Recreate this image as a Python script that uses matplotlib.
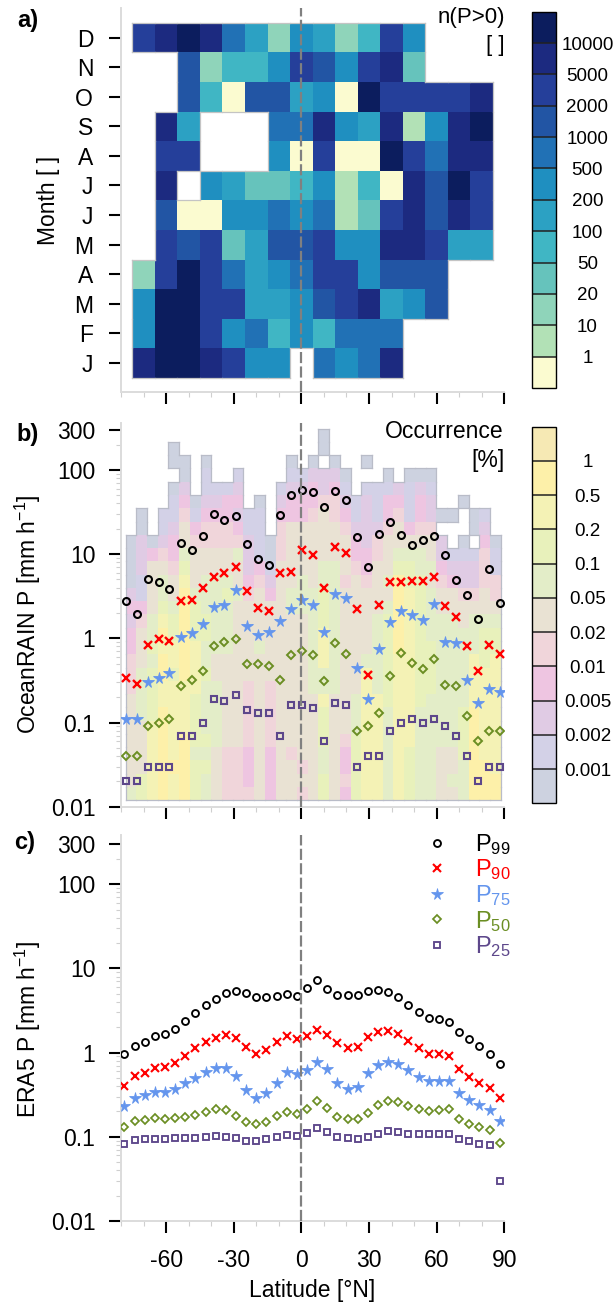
import numpy as np
import matplotlib
matplotlib.use("Agg")
import matplotlib.pyplot as plt
from matplotlib.colors import ListedColormap, BoundaryNorm
from matplotlib.cm import ScalarMappable
from matplotlib.ticker import FixedLocator, LogLocator, NullFormatter

plt.rcParams['font.family'] = ['Liberation Sans', 'DejaVu Sans']
plt.rcParams['mathtext.fontset'] = 'custom'
plt.rcParams['mathtext.rm'] = 'Liberation Sans'
plt.rcParams['mathtext.default'] = 'regular'

W, H = 616, 1305

# panel a, count class per month (top row is December), '.' = no data
months = ['D', 'N', 'O', 'S', 'A', 'J', 'J', 'M', 'A', 'M', 'F', 'J']
month_rows = [
    "9aba752652496...",
    "..824469869a3...",
    "..84088560b9999a",
    ".a5...77a65a16ab",
    ".99...60900b97aa",
    ".a.653346140a8b9",
    ".80066767139a8a9",
    ".9893588966aa955",
    "29b97567996888..",
    "6bb9955689a568..",
    "6bb967464777....",
    "abba966.767a....",
]
n_values = {'0': 0.5, '1': 5, '2': 15, '3': 35, '4': 75, '5': 150, '6': 350,
            '7': 750, '8': 1500, '9': 3500, 'a': 7500, 'b': 15000}
n_levels = [0.1, 1, 10, 20, 50, 100, 200, 500, 1000, 2000, 5000, 10000, 20000]
n_labels = ['1', '10', '20', '50', '100', '200', '500', '1000', '2000', '5000', '10000']
n_colors = ['#fbfbd0', '#b2e1b6', '#8fd4ba', '#66c3bc', '#40b6c4', '#2ca1c3',
            '#1f8fc0', '#2171b5', '#2255a4', '#253f9a', '#1c2a80', '#0c1d5e']

# panel b background, occurrence class per latitude column, top bin first
occ_columns = [
    "........aaaacdcddeeefffffffg",
    "......aacccbbdefffggggffffhh",
    "........adffffgghghhhhiiiiii",
    "......bbcefgghijijjiijjjjjjj",
    ".aa.abbcddeffghhiihiiiiiijii",
    "..aacdeffghijjjjjjjiiiijjjjj",
    ".....abdefffghhhiiiihhhhghhh",
    "..abbcdeeffggghhgghgggghghgg",
    "....bcdeeffggggggffgggggffff",
    "....bddeeffghggggfffffffeeee",
    "...bcdcdegffgfffffffffffeeee",
    "......bbcccdeffffffeeeeeddde",
    ".....abbbbdeffffgfffffffffff",
    "........aabcdffffffeeeeedddd",
    "....bcdeeeffffffffffffffffff",
    "..abcddfffffggffffffffffefff",
    "...bcddffffgggfffffffffffefe",
    "..acddefffffggggggggffffffff",
    "aa.cceffffgghhhiiiggihhhgghh",
    "..acdeefffggggggggggffffffff",
    "...abcdefffefffffffffffedded",
    ".....bbcddefffffffffggghhhhh",
    "..a.bccccddefffffgiiiiiiiiii",
    "....bbbceeffffggggggiiiiiiii",
    "...abddefffgfghhhhhhhggggggg",
    "....cdeffghjjjjjjiiiiiiiiiii",
    "...abbbdfghhiiiiiiiiiiiihhhh",
    "...acddefgghhhhhhhhhhggggggg",
    "...abcceffgfgggghhhhgggggggg",
    "......a.ccdeffggggggggggffff",
    "......a..bcdffggggggggggffgf",
    ".....a..abcceffgggggghhhhggg",
    "......aa.bccefgggiiiijjjjjjj",
    "......bcdeeeffghhhiiiiiiijjj",
    "........abbeefghhiiiiiiiiijj",
]
occ_values = {'a': 0.0005, 'b': 0.0015, 'c': 0.003, 'd': 0.007, 'e': 0.015, 'f': 0.03,
              'g': 0.07, 'h': 0.15, 'i': 0.3, 'j': 0.7, 'k': 1.5}
occ_levels = [0.0001, 0.001, 0.002, 0.005, 0.01, 0.02, 0.05, 0.1, 0.2, 0.5, 1, 2]
occ_labels = ['0.001', '0.002', '0.005', '0.01', '0.02', '0.05', '0.1', '0.2', '0.5', '1']
occ_colors = ['#cdd2e0', '#d3d1e7', '#e0cbe4', '#eec5e1', '#f0d5da', '#e9e2d3',
              '#e3edc8', '#e8f1bb', '#f4f2b5', '#fdf0a9', '#f6e9b4']

# OceanRAIN percentiles
lat_b = [-77.9, -73.1, -68.2, -63.3, -58.5, -53.6, -48.7, -43.8, -38.9, -34.1, -29.2, -24.3,
         -19.4, -14.5, -9.7, -4.8, 0.1, 5.0, 9.9, 14.7, 19.6, 24.5, 29.4, 34.3, 39.1, 44.0,
         48.9, 53.8, 58.7, 63.5, 68.4, 73.3, 78.2, 83.1, 87.9]
b_p99 = [2.75, 1.95, 5.07, 4.67, 3.86, 13.6, 11.2, 16.3, 30.3, 25.5, 28.2, 13.2, 8.85, 7.5, 29.2,
         50.5, 57.4, 54.9, 36, 56.9, 44, 16, 7.05, 17.5, 24.4, 16.8, 12.7, 14.6, 16.6, 9.7, 4.94,
         3.3, 1.71, 6.67, 2.63]
b_p90 = [0.34, 0.29, 0.84, 0.98, 0.92, 2.8, 2.86, 3.97, 5.4, 5.9, 7.05, 3.65, 2.27, 2.11, 5.93,
         6.14, 11.3, 9.7, 4.0, 12.2, 10.3, 2.25, 0.37, 2.51, 4.63, 4.67, 4.76, 4.76, 5.31, 2.42,
         1.79, 0.8, 0.41, 0.84, 0.65]
b_p75 = [0.11, 0.11, 0.3, 0.34, 0.39, 1.03, 1.17, 1.49, 2.38, 2.47, 3.75, 1.41, 1.1, 1.19, 1.62,
         2.21, 2.86, 2.51, 1.2, 3.36, 3.02, 0.45, 0.19, 0.74, 1.55, 2.11, 1.89, 1.65, 2.58, 0.9,
         0.88, 0.32, 0.17, 0.25, 0.23]
b_p50 = [0.04, 0.04, 0.09, 0.1, 0.11, 0.27, 0.32, 0.41, 0.81, 0.9, 0.97, 0.5, 0.49, 0.47, 0.32,
         0.63, 0.71, 0.64, 0.31, 0.87, 0.65, 0.08, 0.09, 0.13, 0.36, 0.67, 0.51, 0.43, 0.57, 0.28,
         0.27, 0.12, 0.06, 0.08, 0.08]
b_p25 = [0.02, 0.02, 0.03, 0.03, 0.03, 0.07, 0.07, 0.1, 0.19, 0.18, 0.21, 0.14, 0.13, 0.13, 0.07,
         0.16, 0.16, 0.15, 0.06, 0.17, 0.16, 0.03, 0.04, 0.04, 0.08, 0.1, 0.11, 0.1, 0.11, 0.09,
         0.07, 0.04, 0.02, 0.03, 0.03]

# ERA5 percentiles
lat_c = [-78.5, -74, -69.5, -65, -60.5, -56, -51.5, -47, -42.5, -38, -33.5, -29, -24.5, -20,
         -15.5, -11, -6.5, -2, 2.5, 7, 11.5, 16, 20.5, 25, 29.5, 34, 38.5, 43, 47.5, 52, 56.5,
         61, 65.5, 70, 74.5, 79, 83.5, 88]
c_p99 = [0.955, 1.21, 1.33, 1.56, 1.65, 1.91, 2.36, 2.96, 3.66, 4.39, 5.09, 5.42, 5.09, 4.52, 4.56,
         4.68, 4.99, 4.68, 5.83, 7.3, 5.62, 4.86, 4.86, 4.86, 5.42, 5.47, 5.23, 4.56, 3.69, 3.07,
         2.61, 2.54, 2.32, 1.75, 1.44, 1.21, 0.96, 0.74]
c_p90 = [0.4, 0.53, 0.57, 0.65, 0.67, 0.76, 0.9, 1.12, 1.34, 1.49, 1.64, 1.49, 1.17, 0.96, 1.07,
         1.33, 1.56, 1.47, 1.56, 1.88, 1.62, 1.3, 1.14, 1.17, 1.55, 1.76, 1.79, 1.65, 1.39, 1.13,
         0.96, 0.95, 0.9, 0.63, 0.52, 0.44, 0.38, 0.29]
c_p75 = [0.23, 0.29, 0.31, 0.34, 0.34, 0.37, 0.43, 0.5, 0.59, 0.65, 0.66, 0.53, 0.36, 0.29, 0.33,
         0.44, 0.59, 0.56, 0.62, 0.77, 0.63, 0.43, 0.37, 0.39, 0.57, 0.72, 0.77, 0.73, 0.62, 0.51,
         0.46, 0.46, 0.46, 0.33, 0.27, 0.24, 0.21, 0.155]
c_p50 = [0.13, 0.154, 0.16, 0.165, 0.164, 0.168, 0.171, 0.183, 0.195, 0.213, 0.21, 0.178, 0.15,
         0.143, 0.151, 0.175, 0.197, 0.186, 0.213, 0.268, 0.217, 0.171, 0.162, 0.161, 0.193, 0.238,
         0.268, 0.259, 0.232, 0.211, 0.202, 0.208, 0.211, 0.162, 0.142, 0.129, 0.121, 0.085]
c_p25 = [0.083, 0.091, 0.093, 0.095, 0.094, 0.0955, 0.0965, 0.097, 0.1, 0.101, 0.1, 0.0955, 0.0895,
         0.09, 0.093, 0.1, 0.105, 0.102, 0.11, 0.127, 0.113, 0.1, 0.0965, 0.094, 0.1, 0.109, 0.118,
         0.115, 0.109, 0.107, 0.107, 0.109, 0.109, 0.094, 0.088, 0.083, 0.081, 0.03]

y_ticks = [0.01, 0.1, 1, 10, 100, 300]
y_labels = ['0.01', '0.1', '1', '10', '100', '300']
lat_ticks = [-60, -30, 0, 30, 60, 90]

styles = {
    'P99': dict(color='black', marker='o', ms=5.0, mfc='none', mew=1.5),
    'P90': dict(color='red', marker='x', ms=5.8, mew=1.7),
    'P75': dict(color='#6495ed', marker='*', ms=8.5, mew=0.6),
    'P50': dict(color='#6b8e23', marker='D', ms=3.9, mfc='none', mew=1.4),
    'P25': dict(color='#5d478b', marker='s', ms=5.0, mfc='none', mew=1.5),
}


def px_axes(left, top, right, bottom):
    return fig.add_axes([left / W, 1 - bottom / H, (right - left) / W, (bottom - top) / H])


def px_text(x, y, s, **kw):
    return fig.text(x / W, 1 - y / H, s, **kw)


def style_axes(ax):
    ax.set_xlim(-80, 90)
    ax.set_facecolor('none')
    for s in ['top', 'right']:
        ax.spines[s].set_visible(False)
    for s in ['left', 'bottom']:
        ax.spines[s].set_color('#dcdcdc')
        ax.spines[s].set_linewidth(1.4)
    ax.set_xticks(lat_ticks)
    ax.set_xticks(np.arange(-80, 91, 10), minor=True)
    ax.set_xticklabels([])
    ax.tick_params(axis='both', which='major', length=8.5, width=1.5, color='black', labelsize=16.5, pad=10)
    ax.tick_params(axis='both', which='minor', length=3.5, width=0.8, color='#cfcfcf')
    ax.axvline(0, color='#808080', lw=1.6, ls=(0, (5, 1.5)), zorder=5)


def log_axis(ax, top):
    ax.set_yscale('log')
    ax.set_ylim(0.01, top)
    ax.yaxis.set_major_locator(FixedLocator(y_ticks))
    ax.set_yticklabels(y_labels)
    ax.yaxis.set_minor_locator(LogLocator(base=10, subs=np.arange(2, 10), numticks=12))
    ax.yaxis.set_minor_formatter(NullFormatter())


def outline(ax, xe, ye, mask, color):
    # thin line round the cells that hold data
    ny, nx = mask.shape
    for j in range(ny):
        for i in range(nx):
            if not mask[j, i]:
                continue
            if i == 0 or not mask[j, i - 1]:
                ax.plot([xe[i], xe[i]], [ye[j], ye[j + 1]], color=color, lw=0.9, zorder=2)
            if i == nx - 1 or not mask[j, i + 1]:
                ax.plot([xe[i + 1], xe[i + 1]], [ye[j], ye[j + 1]], color=color, lw=0.9, zorder=2)
            if j == 0 or not mask[j - 1, i]:
                ax.plot([xe[i], xe[i + 1]], [ye[j], ye[j]], color=color, lw=0.9, zorder=2)
            if j == ny - 1 or not mask[j + 1, i]:
                ax.plot([xe[i], xe[i + 1]], [ye[j + 1], ye[j + 1]], color=color, lw=0.9, zorder=2)


def add_bar(box, cmap, norm, levels, labels):
    cax = px_axes(*box)
    cb = fig.colorbar(ScalarMappable(norm=norm, cmap=cmap), cax=cax, spacing='uniform', drawedges=True,
                      ticks=levels[1:-1])
    cb.outline.set_edgecolor('black')
    cb.outline.set_linewidth(1.0)
    cb.dividers.set_color('#222222')
    cb.dividers.set_linewidth(1.1)
    cb.minorticks_off()
    cb.set_ticklabels(labels)
    cax.tick_params(length=0, pad=23, labelsize=13.5)
    for t in cax.get_yticklabels():
        t.set_ha('center')
    return cb


fig = plt.figure(figsize=(W / 100, H / 100), dpi=100)

# a) months against latitude
ax_a = px_axes(121, 8, 504.3, 391.7)
style_axes(ax_a)
n_cmap = ListedColormap(n_colors)
n_norm = BoundaryNorm(n_levels, n_cmap.N)
n_grid = np.array([[n_values.get(c, np.nan) for c in row] for row in month_rows[::-1]])
lat_edges_a = np.arange(-75, 86, 10)
row_edges = np.arange(13)
ax_a.pcolormesh(lat_edges_a, row_edges, np.ma.masked_invalid(n_grid), cmap=n_cmap, norm=n_norm, zorder=1)
outline(ax_a, lat_edges_a, row_edges, ~np.isnan(n_grid), '#c4c4c4')
ax_a.set_ylim(-0.46, 12.5)
ax_a.set_yticks(np.arange(12) * 0.9975 + 0.52)
ax_a.set_yticklabels(months[::-1])
ax_a.tick_params(axis='y', which='major', pad=11.5)
add_bar((532, 11.7, 555.5, 388), n_cmap, n_norm, n_levels, n_labels)

# b) OceanRAIN
ax_b = px_axes(121, 423, 504.3, 806.7)
style_axes(ax_b)
log_axis(ax_b, 361)
occ_cmap = ListedColormap(occ_colors)
occ_norm = BoundaryNorm(occ_levels, occ_cmap.N)
occ_grid = np.array([[occ_values.get(c, np.nan) for c in col] for col in occ_columns]).T
lat_edges_b = np.linspace(-78.0, 88.4, 36)
p_edges = np.logspace(2.491, -1.924, 29)
ax_b.pcolormesh(lat_edges_b, p_edges, np.ma.masked_invalid(occ_grid), cmap=occ_cmap, norm=occ_norm, zorder=1)
outline(ax_b, lat_edges_b, p_edges, ~np.isnan(occ_grid), '#b9bcc8')
for key, vals in zip(styles, [b_p99, b_p90, b_p75, b_p50, b_p25]):
    ax_b.plot(lat_b, vals, ls='none', zorder=4, **styles[key])
add_bar((532, 426.7, 555.5, 803.3), occ_cmap, occ_norm, occ_levels, occ_labels)

# c) ERA5
ax_c = px_axes(121, 835, 504.3, 1221)
style_axes(ax_c)
log_axis(ax_c, 384)
handles = []
for key, vals in zip(styles, [c_p99, c_p90, c_p75, c_p50, c_p25]):
    st = dict(styles[key])
    st['mew'] = st['mew'] * 0.9
    h, = ax_c.plot(lat_c, vals, ls='none', zorder=4, label='P$_{%s}$' % key[1:], **st)
    handles.append(h)
ax_c.set_xticklabels([str(v) for v in lat_ticks])
ax_c.tick_params(axis='x', which='major', pad=12)
ax_c.legend(handles=handles, loc='upper left', bbox_to_anchor=(0.7936, 1.008), frameon=False, fontsize=17,
            labelcolor='linecolor', handlelength=1.0, handletextpad=1.09, labelspacing=0.03, borderpad=0,
            borderaxespad=0, numpoints=1)

# labels, placed by hand like the original layout
px_text(17, 21, 'a)', fontsize=17, fontweight='bold', va='center')
px_text(16, 434, 'b)', fontsize=17, fontweight='bold', va='center')
px_text(14, 843, 'c)', fontsize=17, fontweight='bold', va='center')
px_text(505, 18, 'n(P>0)', fontsize=16, ha='right', va='center')
px_text(505, 45, '[ ]', fontsize=16, ha='right', va='center')
px_text(503, 432, 'Occurrence', fontsize=16.5, ha='right', va='center')
px_text(505, 460, '[%]', fontsize=16.5, ha='right', va='center')
px_text(48, 200, 'Month [ ]', fontsize=16.5, rotation=90, ha='center', va='center')
px_text(28, 614, 'OceanRAIN P [mm h$^{-1}$]', fontsize=16.5, rotation=90, ha='center', va='center')
px_text(28, 1029, 'ERA5 P [mm h$^{-1}$]', fontsize=16.5, rotation=90, ha='center', va='center')
px_text(312, 1290, 'Latitude [°N]', fontsize=16.5, ha='center', va='center')

fig.savefig('out.png', dpi=100)
